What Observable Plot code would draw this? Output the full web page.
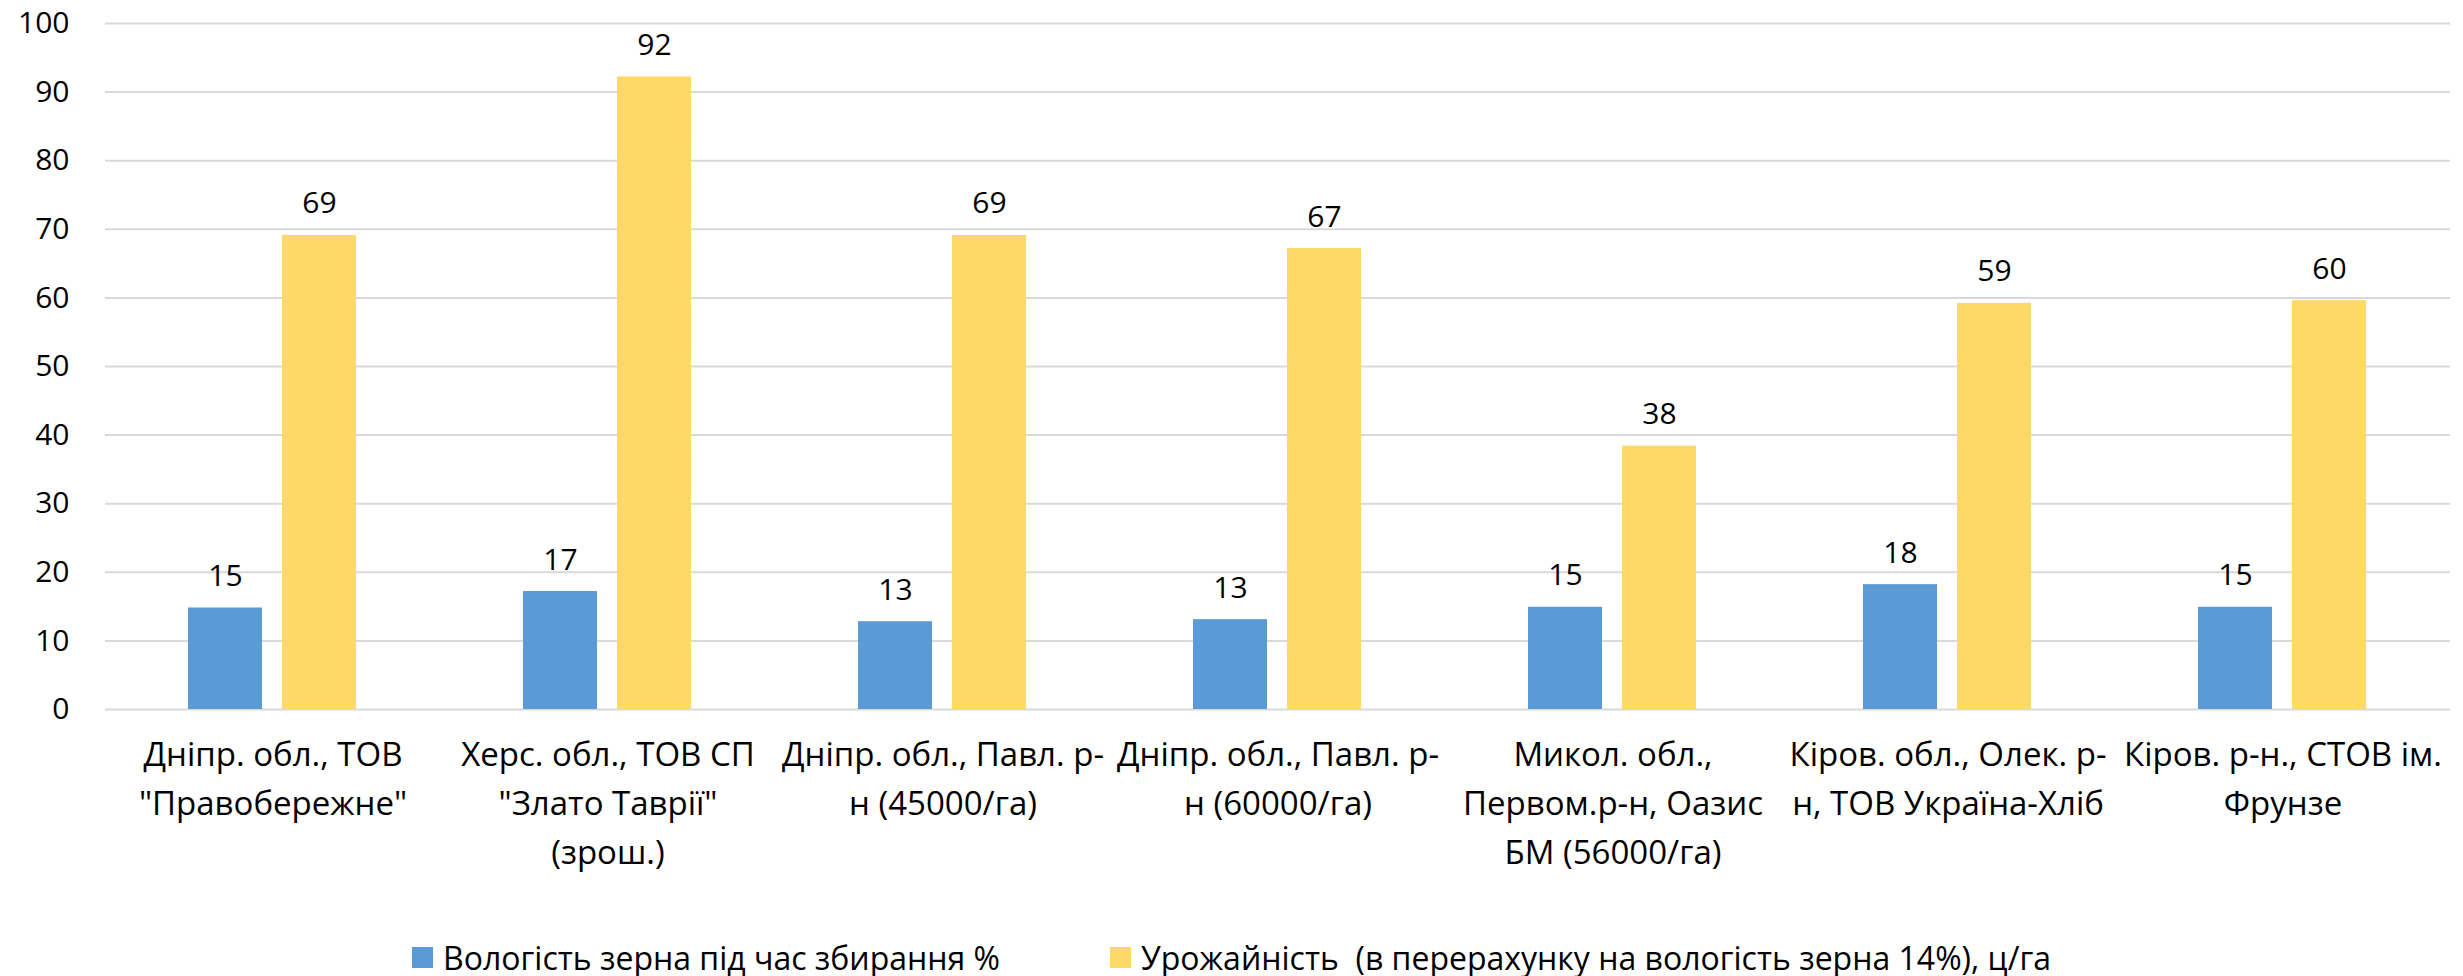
<!DOCTYPE html>
<html>
<head>
<meta charset="utf-8">
<script src="https://cdn.jsdelivr.net/npm/d3@7"></script>
<script src="https://cdn.jsdelivr.net/npm/@observablehq/plot@0.6"></script>
<style>
  html, body { margin: 0; padding: 0; background: #fff; overflow: hidden; }
  #chart { position: absolute; left: 0; top: 0; }
  #legend { position: absolute; left: 0; top: 932px; width: 2463px; height: 50px;
    display: flex; justify-content: center; align-items: center; gap: 110px;
    font-family: "Open Sans", sans-serif; font-size: 32px; color: #000; white-space: pre; }
  .item { display: flex; align-items: center; }
  .sw { width: 21px; height: 21px; margin-right: 10px; }
</style>
</head>
<body>
<div id="chart"></div>
<div id="legend"></div>
<script>
const categories = [
  "Дніпр. обл., ТОВ\n\"Правобережне\"",
  "Херс. обл., ТОВ СП\n\"Злато Таврії\"\n(зрош.)",
  "Дніпр. обл., Павл. р-\nн (45000/га)",
  "Дніпр. обл., Павл. р-\nн (60000/га)",
  "Микол. обл.,\nПервом.р-н, Оазис\nБМ (56000/га)",
  "Кіров. обл., Олек. р-\nн, ТОВ Україна-Хліб",
  "Кіров. р-н., СТОВ ім.\nФрунзе"
];
const series = [
  "Вологість зерна під час збирання %",
  "Урожайність  (в перерахунку на вологість зерна 14%), ц/га"
];
const moisture = [14.8, 17.2, 12.8, 13.1, 14.9, 18.2, 14.9];
const yieldVals = [69.1, 92.2, 69.1, 67.2, 38.4, 59.2, 59.6];
const colors = ["#5b9bd5", "#ffd966"];
const yTicks = [0, 10, 20, 30, 40, 50, 60, 70, 80, 90, 100];

const rows = [];
categories.forEach((c, i) => {
  rows.push({cat: c, series: series[0], value: moisture[i]});
  rows.push({cat: c, series: series[1], value: yieldVals[i]});
});
const fmt = d3.format(".0f");

const chart = Plot.plot({
  width: 2463,
  height: 925,
  marginLeft: 104,
  marginRight: 12,
  marginTop: 23,
  marginBottom: 216,
  style: {fontFamily: "Open Sans, sans-serif", fontSize: "30px", color: "#000", background: "#fff"},
  fx: {domain: categories, paddingInner: 0, paddingOuter: 0, label: null, axis: null},
  x: {domain: series, paddingInner: 20 / 95, paddingOuter: 0.87, axis: null},
  y: {domain: [0, 100], label: null},
  color: {domain: series, range: colors},
  marks: [
    Plot.gridY(yTicks, {stroke: "#d9d9d9", strokeOpacity: 1, strokeWidth: 2}),
    Plot.axisY(yTicks, {tickSize: 0, tickPadding: 36, fontSize: 30, label: null, fill: "#000"}),
    Plot.axisFx({anchor: "bottom", tickSize: 0, tickPadding: 22, lineHeight: 1.48, fontSize: 33, label: null, fill: "#000"}),
    Plot.barY(rows, {fx: "cat", x: "series", y: "value", fill: "series"}),
    Plot.text(rows, {fx: "cat", x: "series", y: "value", text: d => fmt(d.value),
      dy: -22, lineAnchor: "bottom", fontSize: 30, fill: "#000"})
  ]
});
document.getElementById("chart").appendChild(chart);

const legend = document.getElementById("legend");
series.forEach((s, i) => {
  const item = document.createElement("div");
  item.className = "item";
  const sw = document.createElement("div");
  sw.className = "sw";
  sw.style.background = colors[i];
  const t = document.createElement("span");
  t.textContent = s;
  item.appendChild(sw);
  item.appendChild(t);
  legend.appendChild(item);
});
</script>
</body>
</html>
